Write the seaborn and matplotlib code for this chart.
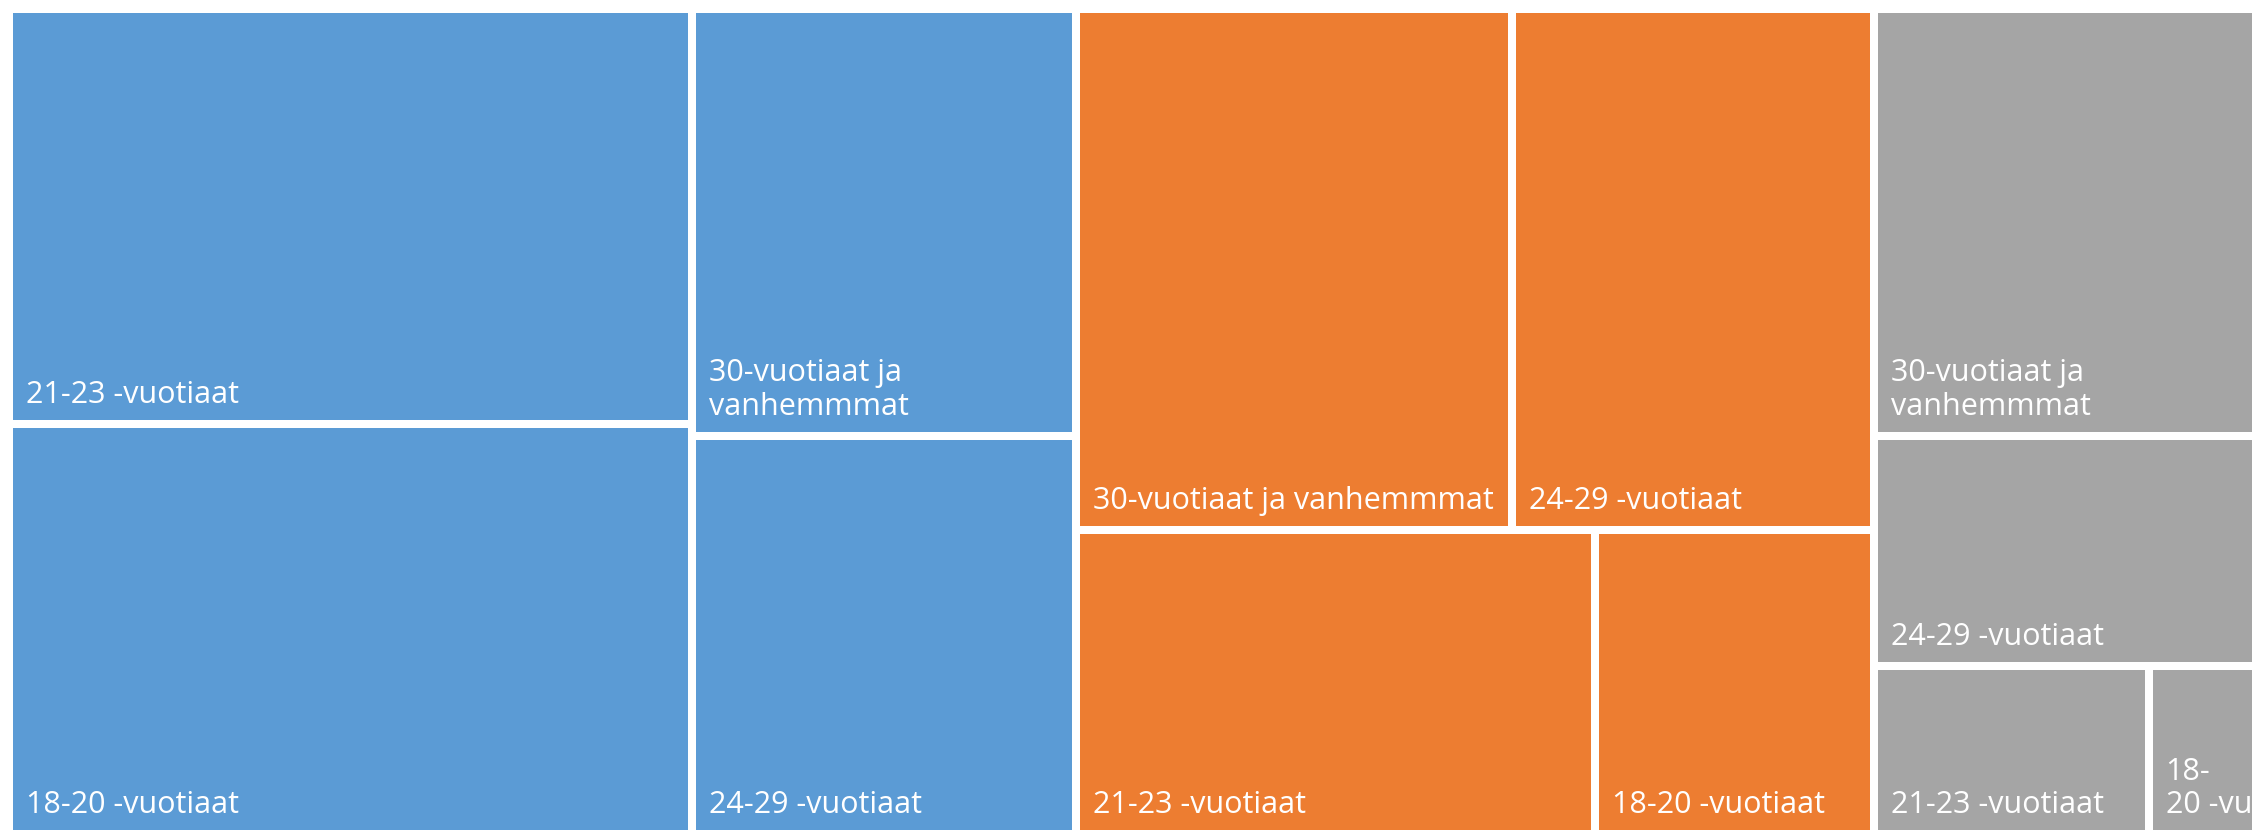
import re
import matplotlib
matplotlib.use("Agg")
import matplotlib.pyplot as plt
from matplotlib.patches import Rectangle
import seaborn as sns

# ---------------- data ----------------
groups = ["Ryhmä 1", "Ryhmä 2", "Ryhmä 3"]
age_groups = ["18-20 -vuotiaat", "21-23 -vuotiaat", "24-29 -vuotiaat",
              "30-vuotiaat ja vanhemmmat"]
values_group1 = [280, 284, 153, 164]
values_group2 = [85, 158, 189, 227]
values_group3 = [18, 46, 88, 163]
group_values = [values_group1, values_group2, values_group3]
group_colors = ["#5B9BD5", "#ED7D31", "#A5A5A5"]

# ---------------- style ----------------
sns.set_theme(style="white")
palette = sns.color_palette(group_colors)
plt.rcParams["font.family"] = ["Open Sans", "DejaVu Sans"]

FONT_SIZE = 22
GAP = 8
PAD_X = 13
PAD_RIGHT = 8
PAD_BOTTOM = 10


# ---------------- squarified treemap layout ----------------
def layout_row(sizes, x, y, dx, dy):
    covered = sum(sizes)
    width = covered / dy
    rects = []
    for s in sizes:
        rects.append((x, y, width, s / width))
        y += s / width
    return rects


def layout_col(sizes, x, y, dx, dy):
    covered = sum(sizes)
    height = covered / dx
    rects = []
    for s in sizes:
        rects.append((x, y, s / height, height))
        x += s / height
    return rects


def layout(sizes, x, y, dx, dy):
    return layout_row(sizes, x, y, dx, dy) if dx >= dy else layout_col(sizes, x, y, dx, dy)


def leftover(sizes, x, y, dx, dy):
    covered = sum(sizes)
    if dx >= dy:
        width = covered / dy
        return x + width, y, dx - width, dy
    height = covered / dx
    return x, y + height, dx, dy - height


def worst_ratio(sizes, x, y, dx, dy):
    return max(max(w / h, h / w) for (_, _, w, h) in layout(sizes, x, y, dx, dy))


def squarify(sizes, x, y, dx, dy):
    if not sizes:
        return []
    if len(sizes) == 1:
        return layout(sizes, x, y, dx, dy)
    i = 1
    while i < len(sizes) and worst_ratio(sizes[:i], x, y, dx, dy) >= worst_ratio(sizes[:i + 1], x, y, dx, dy):
        i += 1
    current, remaining = sizes[:i], sizes[i:]
    lx, ly, ldx, ldy = leftover(current, x, y, dx, dy)
    return layout(current, x, y, dx, dy) + squarify(remaining, lx, ly, ldx, ldy)


def normalize(sizes, dx, dy):
    total = sum(sizes)
    return [s * dx * dy / total for s in sizes]


# ---------------- figure ----------------
fig = plt.figure(figsize=(22.52, 8.30), dpi=100)
ax = fig.add_axes([0, 0, 1, 1])
ax.set_xlim(0, 2252)
ax.set_ylim(830, 0)
ax.axis("off")

canvas_x, canvas_y, canvas_w, canvas_h = 9, 9, 2247, 825

renderer = fig.canvas.get_renderer()
_tmp = ax.text(0, 0, "", fontsize=FONT_SIZE)


def text_width(s):
    stripped = s.rstrip(" ")
    n_trail = len(s) - len(stripped)
    _tmp.set_text(stripped)
    w = _tmp.get_window_extent(renderer).width if stripped else 0
    _tmp.set_text("a a")
    w_sp = _tmp.get_window_extent(renderer).width
    _tmp.set_text("aa")
    w_sp -= _tmp.get_window_extent(renderer).width
    return w + n_trail * w_sp


def wrap(label, avail):
    tokens = re.findall(r"[^\s-]+-(?=\S)|\S+\s*", label)
    lines, cur = [], ""
    for tok in tokens:
        cand = cur + tok
        too_long_alone = text_width(tok) > avail
        if cur and text_width(cand) > avail and not too_long_alone:
            lines.append(cur.rstrip())
            cur = tok
        else:
            cur = cand
    lines.append(cur.rstrip())
    return "\n".join(lines)


totals = [sum(v) for v in group_values]
g_order = sorted(range(len(groups)), key=lambda i: -totals[i])
g_rects = squarify(normalize([totals[i] for i in g_order], canvas_w, canvas_h),
                   canvas_x, canvas_y, canvas_w, canvas_h)

for gi, (gx, gy, gw, gh) in zip(g_order, g_rects):
    vals = group_values[gi]
    order = sorted(range(len(vals)), key=lambda i: -vals[i])
    leaf_rects = squarify(normalize([vals[i] for i in order], gw, gh), gx, gy, gw, gh)
    for li, (x, y, w, h) in zip(order, leaf_rects):
        x0, y0 = x + GAP / 2, y + GAP / 2
        vw, vh = w - GAP, h - GAP
        patch = Rectangle((x0, y0), vw, vh, facecolor=palette[gi], edgecolor="none")
        ax.add_patch(patch)
        label = wrap(age_groups[li], vw - PAD_X - PAD_RIGHT)
        t = ax.text(x0 + PAD_X, y0 + vh - PAD_BOTTOM, label, ha="left", va="bottom",
                    color="white", fontsize=FONT_SIZE, linespacing=1.15)
        t.set_clip_path(patch)

_tmp.remove()
fig.savefig("out.png", dpi=100, facecolor="white")
